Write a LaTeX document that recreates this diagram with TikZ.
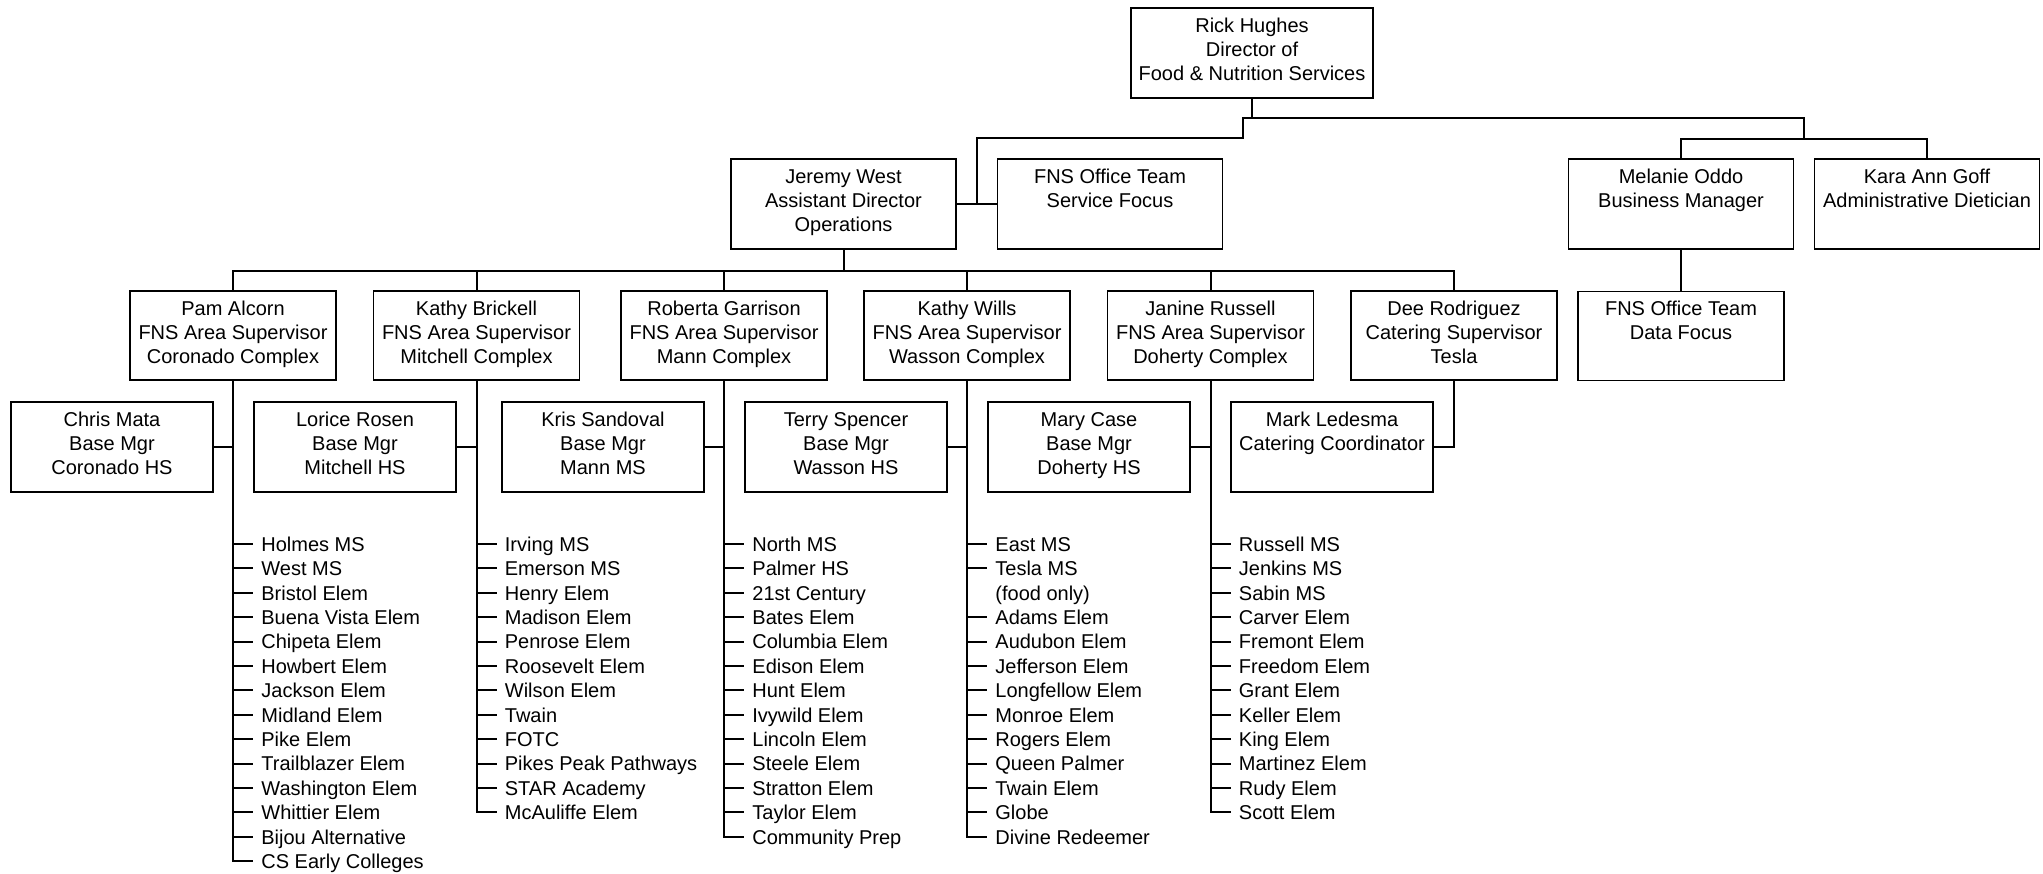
\documentclass[tikz,border=0pt]{standalone}
\usepackage{fontspec}
\setmainfont{Liberation Sans}
\usetikzlibrary{calc}
\tikzset{
  box/.style= {draw, line width=0.9pt, align=center, inner sep=0pt,
    minimum height=45pt, font=\fontsize{10}{12}\selectfont,
    execute at begin node=\rule{0pt}{11.4pt}, execute at end node=\strut},
  topbox/.style= {box, minimum width=121pt},
  widebox/.style= {box, minimum width=112.5pt},
  supbox/.style= {box, minimum width=103pt, minimum height=44.5pt},
  basebox/.style= {box, minimum width=101pt},
  school/.style= {anchor=west, inner xsep=4pt, inner ysep=0pt,
    text height=7.2pt, text depth=0pt, font=\fontsize{10}{12}\selectfont},
  link/.style= {line width=1pt},
  thinlink/.style= {line width=0.7pt},
}

\begin{document}
\begin{tikzpicture}[x=0.5pt, y=-0.5pt]
  \useasboundingbox (0,0) rectangle (2043,873) ;

  \node [topbox] (rick) at (1252,53) {Rick Hughes\\Director of\\Food \& Nutrition Services} ;
  \node [widebox] (jeremy) at (843.5,204) {Jeremy West\\Assistant Director\\Operations} ;
  \node [widebox] (office) at (1110,204) {FNS Office Team\\Service Focus\\} ;
  \node [widebox] (melanie) at (1681,204) {Melanie Oddo\\Business Manager\\} ;
  \node [widebox] (kara) at (1927,204) {Kara Ann Goff\\Administrative Dietician\\} ;
  \node [supbox] (data) at (1681,336) {FNS Office Team\\Data Focus\\} ;

  \node [supbox] (pam) at (233,335.5) {Pam Alcorn\\FNS Area Supervisor\\Coronado Complex} ;
  \node [supbox] (brickell) at (476.5,335.5) {Kathy Brickell\\FNS Area Supervisor\\Mitchell Complex} ;
  \node [supbox] (garrison) at (724,335.5) {Roberta Garrison\\FNS Area Supervisor\\Mann Complex} ;
  \node [supbox] (wills) at (967,335.5) {Kathy Wills\\FNS Area Supervisor\\Wasson Complex} ;
  \node [supbox] (russell) at (1210.5,335.5) {Janine Russell\\FNS Area Supervisor\\Doherty Complex} ;
  \node [supbox] (rodriguez) at (1454,335.5) {Dee Rodriguez\\Catering Supervisor\\Tesla} ;

  \node [basebox] (chris) at (112,447) {Chris Mata\\Base Mgr\\Coronado HS} ;
  \node [basebox] (lorice) at (355,447) {Lorice Rosen\\Base Mgr\\Mitchell HS} ;
  \node [basebox] (kris) at (603,447) {Kris Sandoval\\Base Mgr\\Mann MS} ;
  \node [basebox] (terry) at (846,447) {Terry Spencer\\Base Mgr\\Wasson HS} ;
  \node [basebox] (mary) at (1089,447) {Mary Case\\Base Mgr\\Doherty HS} ;
  \node [basebox] (mark) at (1332,447) {Mark Ledesma\\Catering Coordinator\\} ;

  \coordinate (rbus) at (1243,118) ;
  \coordinate (lbus) at (1243,138) ;
  \coordinate (sbus) at (1804,139) ;
  \coordinate (jx) at ($(jeremy.east)!0.5!(office.west)$) ;
  \coordinate (jbus) at ($(jeremy.south)+(0,21)$) ;

  \draw [thinlink] (rick) -- (rick |- rbus) ;
  \draw [link] (jeremy) -- (office) ;
  \draw [link] (jx) |- (lbus) -- (rbus) -| (sbus) ;
  \draw [link] (melanie) |- (sbus) -| (kara) ;
  \draw [thinlink] (melanie) -- (data) ;
  \draw [link] (jeremy) -- (jbus) ;
  \foreach \s in {pam,brickell,garrison,wills,russell,rodriguez}
    \draw [link] (jbus) -| (\s) ;
  \draw [link] (chris) -- (chris -| pam) ;
  \draw [link] (lorice) -- (lorice -| brickell) ;
  \draw [link] (kris) -- (kris -| garrison) ;
  \draw [link] (terry) -- (terry -| wills) ;
  \draw [link] (mary) -- (mary -| russell) ;
  \draw [link] (rodriguez) |- (mark) ;

  \foreach \s [count=\i from 0] in {Holmes MS,West MS,Bristol Elem,Buena Vista Elem,Chipeta Elem,Howbert Elem,Jackson Elem,Midland Elem,Pike Elem,Trailblazer Elem,Washington Elem,Whittier Elem,Bijou Alternative,CS Early Colleges} {
    \node [school] (cor\i) at (253,544+24.4*\i) {\s} ;
    \draw [link] (pam) |- (cor\i.west) ;
  }
  \foreach \s [count=\i from 0] in {Irving MS,Emerson MS,Henry Elem,Madison Elem,Penrose Elem,Roosevelt Elem,Wilson Elem,Twain,FOTC,Pikes Peak Pathways,STAR Academy,McAuliffe Elem} {
    \node [school] (mit\i) at (496.5,544+24.4*\i) {\s} ;
    \draw [link] (brickell) |- (mit\i.west) ;
  }
  \foreach \s [count=\i from 0] in {North MS,Palmer HS,21st Century,Bates Elem,Columbia Elem,Edison Elem,Hunt Elem,Ivywild Elem,Lincoln Elem,Steele Elem,Stratton Elem,Taylor Elem,Community Prep} {
    \node [school] (man\i) at (744,544+24.4*\i) {\s} ;
    \draw [link] (garrison) |- (man\i.west) ;
  }
  \foreach \k/\s in {0/East MS,1/Tesla MS,3/Adams Elem,4/Audubon Elem,5/Jefferson Elem,6/Longfellow Elem,7/Monroe Elem,8/Rogers Elem,9/Queen Palmer,10/Twain Elem,11/Globe,12/Divine Redeemer} {
    \node [school] (was\k) at (987,544+24.4*\k) {\s} ;
    \draw [link] (wills) |- (was\k.west) ;
  }
  \node [school] (was2) at (987,544+24.4*2) {(food only)} ;
  \foreach \s [count=\i from 0] in {Russell MS,Jenkins MS,Sabin MS,Carver Elem,Fremont Elem,Freedom Elem,Grant Elem,Keller Elem,King Elem,Martinez Elem,Rudy Elem,Scott Elem} {
    \node [school] (doh\i) at (1230.5,544+24.4*\i) {\s} ;
    \draw [link] (russell) |- (doh\i.west) ;
  }
\end{tikzpicture}
\end{document}
